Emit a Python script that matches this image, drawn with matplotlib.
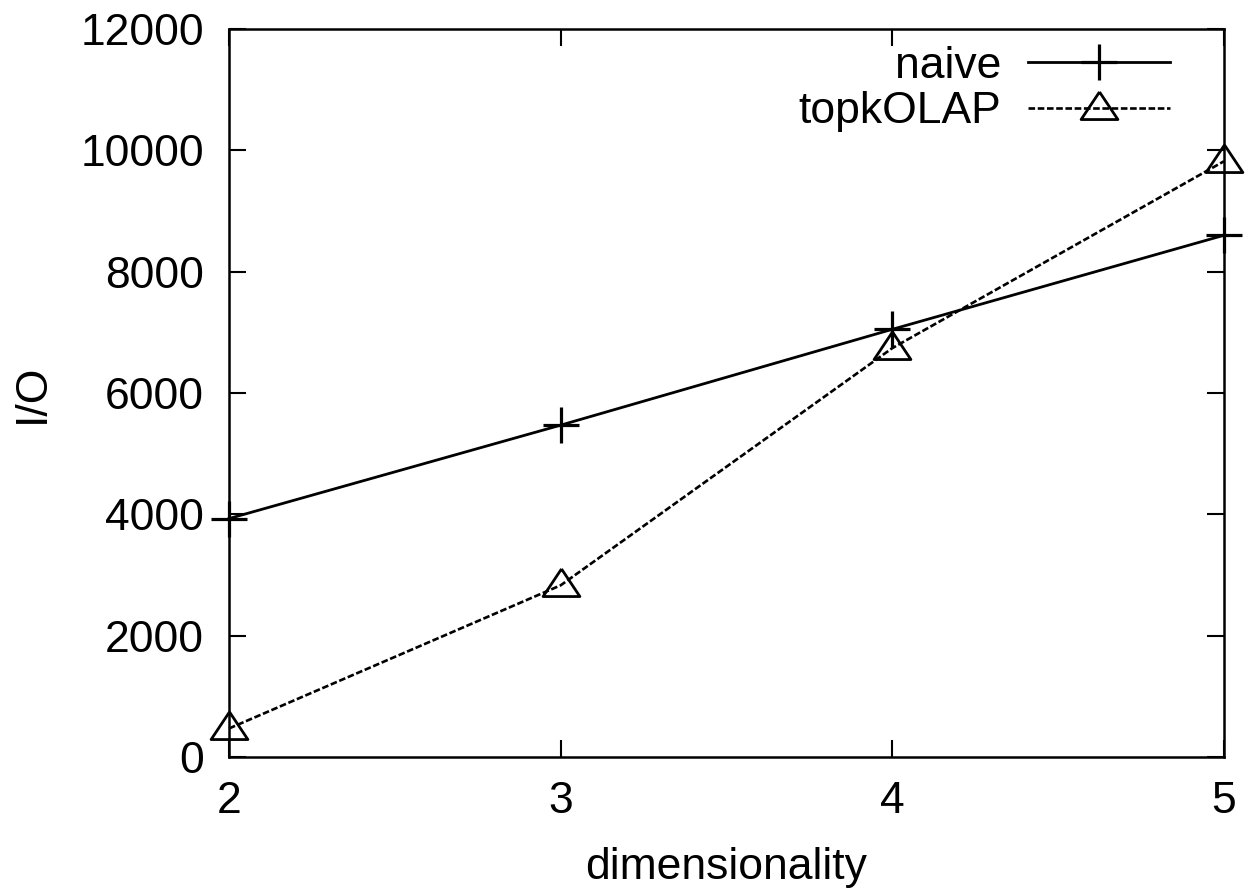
import matplotlib
matplotlib.use("Agg")
import matplotlib.pyplot as plt

dims = [2, 3, 4, 5]
naive = [3930, 5470, 7050, 8600]
topk = [470, 2830, 6740, 9820]
yticks = [0, 2000, 4000, 6000, 8000, 10000, 12000]

plt.rcParams['font.family'] = ['Liberation Sans', 'DejaVu Sans']
FS = 32

fig = plt.figure(figsize=(12.46, 8.91), dpi=100)
ax = fig.add_axes([229/1246, 1-757/891, (1224-229)/1246, (757-29)/891])

tri = [(0, 0.9), (-1, -0.6), (1, -0.6), (0, 0.9)]
ax.plot(dims, naive, color='black', lw=2.0, marker='+', ms=26, mew=2.3,
        label='naive', clip_on=False, zorder=3)
ax.plot(dims, topk, color='black', lw=1.9, dashes=(2.5, 1.0), marker=tri, ms=26.5,
        mew=2.0, mfc='none', mec='black', label='topkOLAP', clip_on=False, zorder=3)

ax.set_xlim(2, 5)
ax.set_ylim(0, 12000)
ax.set_xticks(dims)
ax.set_yticks(yticks)
ax.tick_params(direction='in', length=12, width=1.5, top=True, right=True,
               labelsize=FS, color='black')
ax.tick_params(axis='x', pad=17)
ax.tick_params(axis='y', pad=18)
for s in ax.spines.values():
    s.set_linewidth(1.8)

ax.set_xlabel('dimensionality', fontsize=FS, labelpad=18)
ax.set_ylabel('I/O', fontsize=FS, labelpad=20)

leg = ax.legend(loc='upper right', bbox_to_anchor=((1170-229)/995, (757-46)/728),
                frameon=False, markerfirst=False, fontsize=FS, handlelength=3.2,
                handletextpad=0.6, labelspacing=0.1, borderpad=0, borderaxespad=0)

fig.savefig('out.png', dpi=100)
